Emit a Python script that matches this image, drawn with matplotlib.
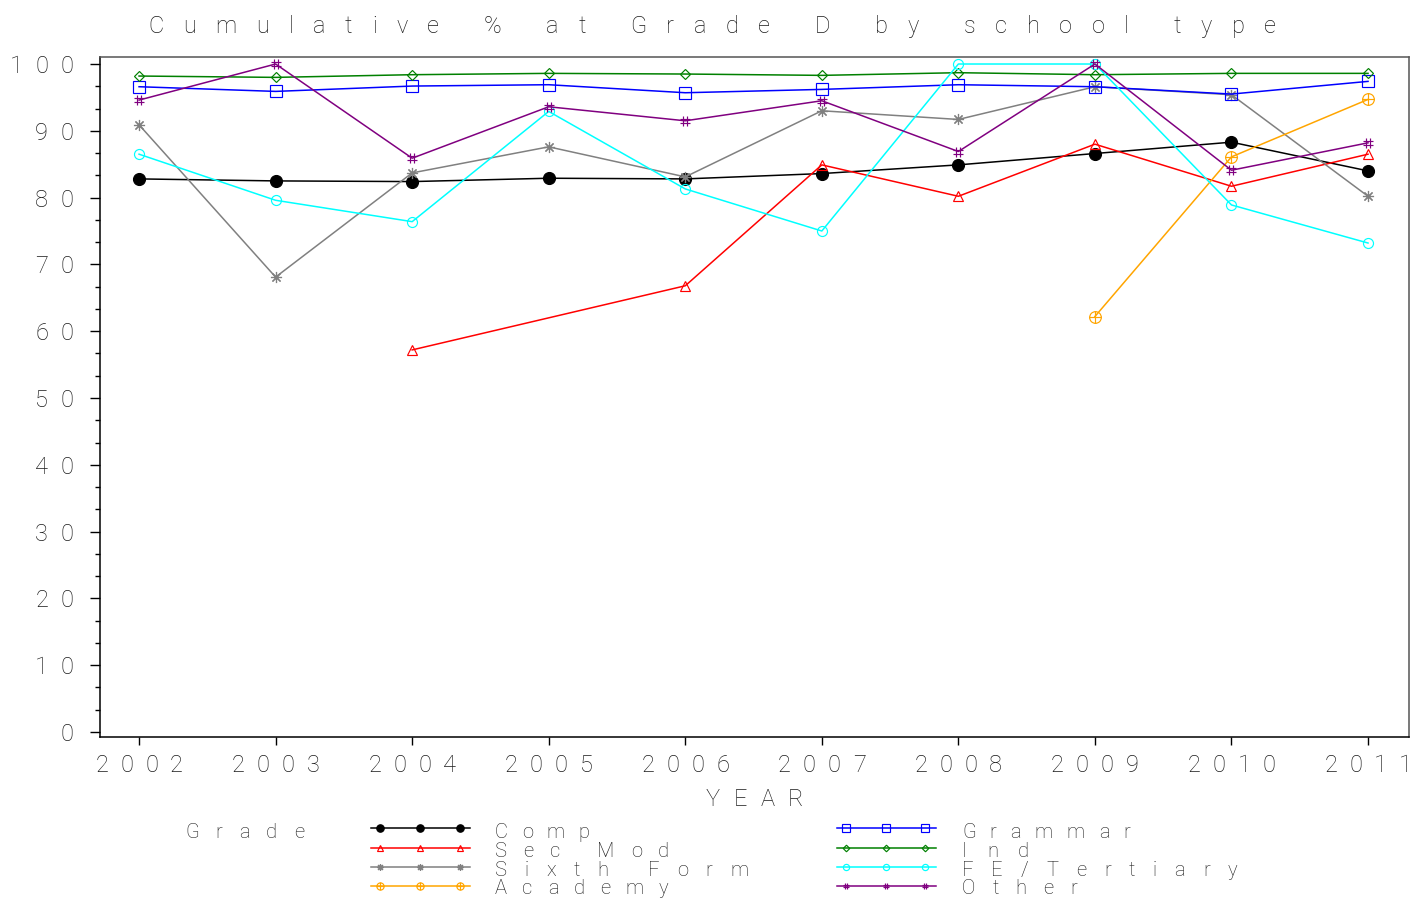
import numpy as np
import matplotlib
matplotlib.use("Agg")
import matplotlib.pyplot as plt
from matplotlib.path import Path
from matplotlib.lines import Line2D
from matplotlib.transforms import Affine2D, IdentityTransform, blended_transform_factory
from matplotlib.font_manager import FontProperties, findfont, get_font

# ---------------------------------------------------------------- data
years = [2002, 2003, 2004, 2005, 2006, 2007, 2008, 2009, 2010, 2011]
nan = np.nan
comp = [82.8, 82.5, 82.4, 82.9, 82.8, 83.6, 84.9, 86.6, 88.3, 84.0]
sec_mod = [nan, nan, 57.2, nan, 66.8, 84.9, 80.2, 88.0, 81.7, 86.5]
sixth_form = [90.9, 68.1, 83.7, 87.6, 83.1, 93.0, 91.7, 96.6, 95.4, 80.2]
academy = [nan, nan, nan, nan, nan, nan, nan, 62.2, 86.1, 94.7]
grammar = [96.6, 95.9, 96.7, 96.9, 95.7, 96.2, 96.9, 96.6, 95.5, 97.4]
ind = [98.2, 98.0, 98.4, 98.6, 98.5, 98.3, 98.7, 98.4, 98.6, 98.6]
fe_tertiary = [86.5, 79.6, 76.4, 92.9, 81.3, 75.0, 100.0, 100.0, 78.9, 73.2]
other = [94.6, 100.0, 85.9, 93.6, 91.5, 94.5, 86.9, 100.0, 84.1, 88.2]

labels = ["Comp", "Sec Mod", "Sixth Form", "Academy",
          "Grammar", "Ind", "FE/Tertiary", "Other"]
values = [comp, sec_mod, sixth_form, academy, grammar, ind, fe_tertiary, other]
y_ticks = list(range(0, 101, 10))

title = "Cumulative % at Grade D by school type"
x_label = "YEAR"
legend_title = "Grade"

# ---------------------------------------------------------------- markers
hash_path = Path(
    [(-0.33, -1), (-0.33, 1), (0.33, -1), (0.33, 1),
     (-1, -0.33), (1, -0.33), (-1, 0.33), (1, 0.33)],
    [Path.MOVETO, Path.LINETO] * 4)
circ = Path.unit_circle()
cross = Path([(-1, 0), (1, 0), (0, -1), (0, 1)],
             [Path.MOVETO, Path.LINETO, Path.MOVETO, Path.LINETO])
circle_plus = Path.make_compound_path(circ, cross)

styles = [
    dict(color="black", marker="o", ms=8.6, mfc="black"),
    dict(color="red", marker="^", ms=7.5, mfc="none"),
    dict(color="gray", marker=(8, 2, 0), ms=8.0, mfc="none"),
    dict(color="orange", marker=circle_plus, ms=8.4, mfc="none"),
    dict(color="blue", marker="s", ms=8.4, mfc="none"),
    dict(color="green", marker="D", ms=5.4, mfc="none"),
    dict(color="cyan", marker="o", ms=7.2, mfc="none"),
    dict(color="purple", marker=hash_path, ms=7.4, mfc="none"),
]

# ---------------------------------------------------------------- figure
W, H, DPI = 1417, 899, 100
fig = plt.figure(figsize=(W / DPI, H / DPI), dpi=DPI)
fig.patch.set_facecolor("white")
ax = fig.add_axes([100 / W, 1 - 737 / H, 1309 / W, 680 / H])

FP = FontProperties(family="Roboto", weight="light")
FONT_FILE = findfont(FP)
TXT = "#1a1a1a"

# pixel coordinates measured from the top-left corner of the figure
pix = Affine2D().scale(1, -1).translate(0, H)


def advances(s, size):
    font = get_font(FONT_FILE)
    font.set_size(size, DPI)
    return [font.load_char(ord(c)).linearHoriAdvance / 65536 for c in s]


def spaced_text(x, y, s, size, transform, ha="left", track=None, width=None,
                dy=0.0, color=TXT):
    """Draw a string with wide letter spacing, one glyph at a time."""
    adv = advances(s, size)
    n = len(s)
    if width is not None:
        track = (width - sum(adv)) / max(n - 1, 1)
    total = sum(adv) + track * (n - 1)
    pos = {"left": 0.0, "center": -total / 2, "right": -total}[ha]
    fp = FP.copy()
    fp.set_size(size)
    for c, a in zip(s, adv):
        if c != " ":
            fig.text(x, y, c, transform=transform + Affine2D().translate(pos, dy),
                     fontproperties=fp, ha="left", va="baseline", color=color,
                     clip_on=False)
        pos += a + track


# ---------------------------------------------------------------- series
for vals, st in zip(values, styles):
    v = np.asarray(vals, dtype=float)
    x = np.asarray(years, dtype=float)
    ok = np.isfinite(v)
    ax.plot(x[ok], v[ok], color=st["color"], lw=1.1, marker=st["marker"],
            ms=st["ms"], mfc=st["mfc"], mec=st["color"], mew=0.85,
            clip_on=False)

ax.set_xlim(2001.714, 2011.30)
ax.set_ylim(-0.75, 101.05)
ax.set_xticks(years)
ax.set_yticks(y_ticks)
ax.set_yticks(np.arange(0, 100.01, 10 / 3), minor=True)
ax.tick_params(axis="y", which="major", length=7.2, width=1.0, direction="out",
               labelleft=False, color="black")
ax.tick_params(axis="y", which="minor", length=3.6, width=1.0, direction="out",
               color="black")
ax.tick_params(axis="x", which="major", length=6.0, width=1.0, direction="out",
               labelbottom=False, color="black")
for side in ("left", "bottom"):
    ax.spines[side].set_color("black")
    ax.spines[side].set_linewidth(1.1)
for side in ("top", "right"):
    ax.spines[side].set_color("#555555")
    ax.spines[side].set_linewidth(1.1)

# tick labels
ytr = blended_transform_factory(IdentityTransform(), ax.transData)
for t in y_ticks:
    spaced_text(73, t, str(t), 17, ytr, ha="right", track=12.0, dy=-9)
xtr = blended_transform_factory(ax.transData, IdentityTransform())
for yr in years:
    spaced_text(yr, H - 772, str(yr), 17, xtr, ha="center", track=12.0)

# title and axis label
spaced_text(148, 33, title, 17, pix, ha="left", width=1128)
spaced_text(754.5, 806, x_label, 17, pix, ha="center", width=97)

# ---------------------------------------------------------------- legend
spaced_text(185, 838, legend_title, 14.5, pix, ha="left", width=119)
row_y = [828, 848, 867, 886]
row_base = [838, 857, 876, 894]
col_line = [(371, 470), (837, 936)]
col_marks = [(380, 420, 460), (846, 886, 925)]
col_text = [495, 962]
text_width = {"Comp": 94, "Sec Mod": 174, "Sixth Form": 253, "Academy": 173,
              "Grammar": 168, "Ind": 67, "FE/Tertiary": 275, "Other": 115}
for i, (lab, st) in enumerate(zip(labels, styles)):
    col, row = divmod(i, 4)
    x0, x1 = col_line[col]
    yy = row_y[row]
    fig.add_artist(Line2D([x0, x1], [yy, yy], transform=pix,
                          color=st["color"], lw=1.1))
    mx = col_marks[col]
    fig.add_artist(Line2D(mx, [yy] * 3, transform=pix, ls="none",
                          marker=st["marker"], ms=st["ms"] * 0.62,
                          mfc=st["mfc"], mec=st["color"], mew=0.85))
    spaced_text(col_text[col], row_base[row], lab, 14.5, pix, ha="left",
                width=text_width[lab])

fig.savefig("out.png", dpi=DPI, facecolor="white")
